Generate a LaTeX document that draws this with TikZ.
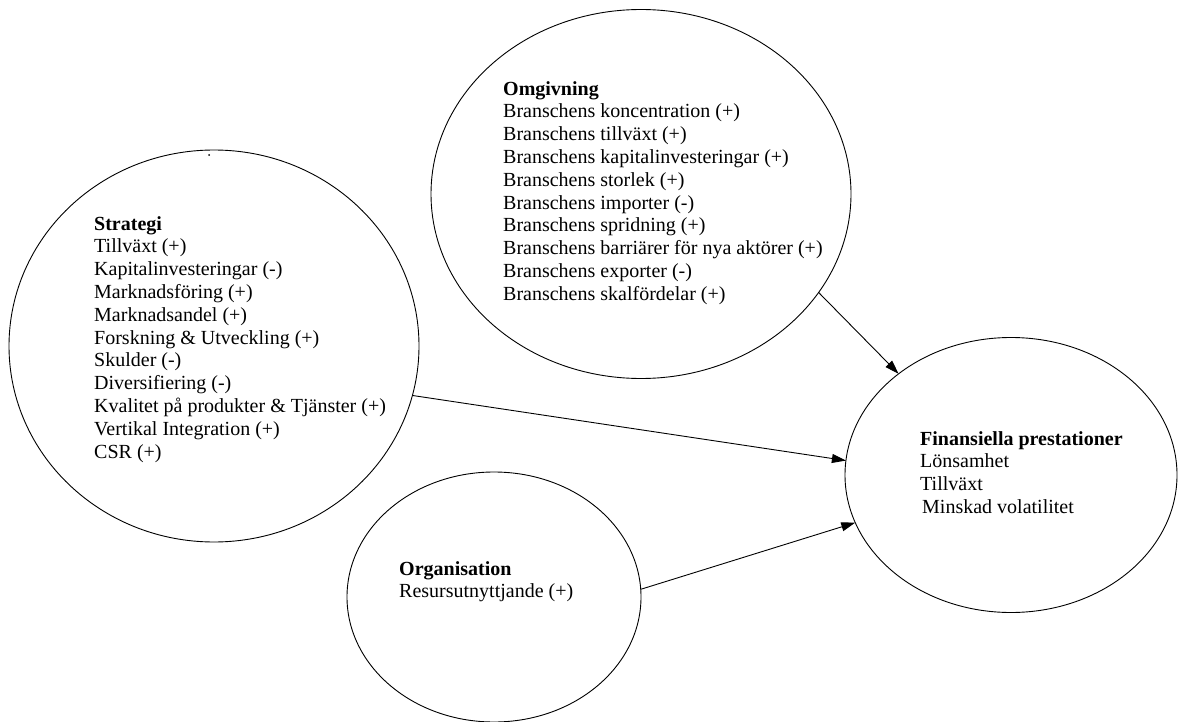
\documentclass[tikz,border=0pt]{standalone}
\usepackage{fontspec}
\setmainfont{Liberation Serif}
\usetikzlibrary{arrows.meta,shapes.geometric,positioning}
\newcommand{\bubblefont}{\fontsize{20}{22.8}\selectfont}
\tikzset{
  bubble/.style={draw=black, ellipse, line width=0.9pt, inner sep=0pt, outer sep=0pt},
  bubbletext/.style={anchor=north west, align=left, inner sep=0pt, font=\bubblefont},
  effect/.style={-{Triangle[length=14pt,width=9pt]}, line width=0.9pt}
}

\begin{document}
\begin{tikzpicture}[x=1pt, y=-1pt]
	\useasboundingbox (0,0) rectangle (1178,722);
	% The bubbles:
	\node[bubble, minimum width=410pt, minimum height=392pt] (strategi) at (214,346) {};
	\node[bubble, minimum width=420pt, minimum height=369pt] (omgivning) at (641,194) {};
	\node[bubble, minimum width=294pt, minimum height=250pt] (organisation) at (494,597) {};
	\node[bubble, minimum width=332pt, minimum height=275pt] (finans) at (1011,475) {};
	\fill[black] (209,155) circle (1); % stray dot
	% Texts:
	\node[bubbletext] (strategitext) at (94,216) {\textbf{Strategi}\\
		Tillväxt (+)\\
		Kapitalinvesteringar (-)\\
		Marknadsföring (+)\\
		Marknadsandel (+)\\
		Forskning \& Utveckling (+)\\
		Skulder (-)\\
		Diversifiering (-)\\
		Kvalitet på produkter \& Tjänster (+)\\
		Vertikal Integration (+)\\
		CSR (+)};
	\node[bubbletext] (omgivningtext) at (503,81) {\textbf{Omgivning}\\
		Branschens koncentration (+)\\
		Branschens tillväxt (+)\\
		Branschens kapitalinvesteringar (+)\\
		Branschens storlek (+)\\
		Branschens importer (-)\\
		Branschens spridning (+)\\
		Branschens barriärer för nya aktörer (+)\\
		Branschens exporter (-)\\
		Branschens skalfördelar (+)};
	\node[bubbletext] (organisationtext) at (399,561) {\textbf{Organisation}\\
		Resursutnyttjande (+)};
	\node[bubbletext] (finanstext) at (920,431) {\textbf{Finansiella prestationer}\\
		Lönsamhet\\
		Tillväxt\\
		\hspace*{2pt}Minskad volatilitet};
	% Effects on performance:
	\draw[effect] (omgivning.-29.7) -- (finans.138.2);
	\draw[effect] (strategi.-14.6) -- (finans.175.9);
	\draw[effect] (organisation.3.1) -- (finans.-163.1);
\end{tikzpicture}
\end{document}
